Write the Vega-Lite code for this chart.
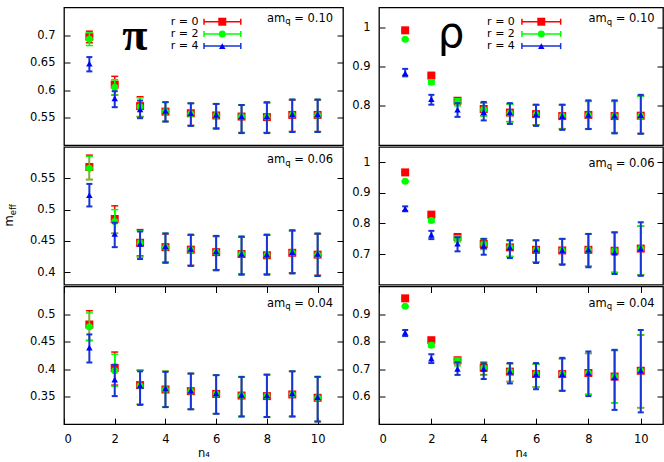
{
"$schema":"https://vega.github.io/schema/vega-lite/v6.json",
"padding":{"left":3,"top":6.5,"right":0,"bottom":0},
"config":{"font":"DejaVu Sans","view":{"stroke":"#000","strokeWidth":1.3},
"axis":{"grid":false,"domain":false,"tickColor":"#000","tickSize":-6,"tickWidth":1,"labelColor":"#000","labelFontSize":11.5,"labelFont":"DejaVu Sans","titleFont":"DejaVu Sans","titleFontSize":11.5,"titleFontWeight":"normal","titleColor":"#000","labelPadding":15},
"text":{"color":"#000"}},
"datasets":{
"notes":[{"p":"pi10","sym":"π","val":"= 0.10"},{"p":"rho10","sym":"ρ","val":"= 0.10"},{"p":"pi06","sym":"","val":"= 0.06"},{"p":"rho06","sym":"","val":"= 0.06"},{"p":"pi04","sym":"","val":"= 0.04"},{"p":"rho04","sym":"","val":"= 0.04"}],
"leg":[{"r":0,"label":"r = 0"},{"r":2,"label":"r = 2"},{"r":4,"label":"r = 4"}],
"d":[
{"p":"pi10","r":0,"n":1,"y":0.697,"lo":0.686,"hi":0.707},{"p":"pi10","r":0,"n":2,"y":0.610,"lo":0.591,"hi":0.625},{"p":"pi10","r":0,"n":3,"y":0.571,"lo":0.552,"hi":0.588},{"p":"pi10","r":0,"n":4,"y":0.561,"lo":0.543,"hi":0.578},{"p":"pi10","r":0,"n":5,"y":0.558,"lo":0.536,"hi":0.576},{"p":"pi10","r":0,"n":6,"y":0.554,"lo":0.531,"hi":0.575},{"p":"pi10","r":0,"n":7,"y":0.552,"lo":0.523,"hi":0.573},{"p":"pi10","r":0,"n":8,"y":0.551,"lo":0.523,"hi":0.577},{"p":"pi10","r":0,"n":9,"y":0.555,"lo":0.525,"hi":0.582},{"p":"pi10","r":0,"n":10,"y":0.555,"lo":0.525,"hi":0.582},
{"p":"pi10","r":2,"n":1,"y":0.693,"lo":0.681,"hi":0.704},{"p":"pi10","r":2,"n":2,"y":0.605,"lo":0.591,"hi":0.619},{"p":"pi10","r":2,"n":3,"y":0.570,"lo":0.551,"hi":0.586},{"p":"pi10","r":2,"n":4,"y":0.561,"lo":0.543,"hi":0.578},{"p":"pi10","r":2,"n":5,"y":0.557,"lo":0.535,"hi":0.576},{"p":"pi10","r":2,"n":6,"y":0.554,"lo":0.530,"hi":0.575},{"p":"pi10","r":2,"n":7,"y":0.552,"lo":0.522,"hi":0.573},{"p":"pi10","r":2,"n":8,"y":0.551,"lo":0.522,"hi":0.578},{"p":"pi10","r":2,"n":9,"y":0.555,"lo":0.524,"hi":0.583},{"p":"pi10","r":2,"n":10,"y":0.555,"lo":0.524,"hi":0.583},
{"p":"pi10","r":4,"n":1,"y":0.648,"lo":0.634,"hi":0.660},{"p":"pi10","r":4,"n":2,"y":0.585,"lo":0.569,"hi":0.598},{"p":"pi10","r":4,"n":3,"y":0.565,"lo":0.549,"hi":0.581},{"p":"pi10","r":4,"n":4,"y":0.562,"lo":0.543,"hi":0.578},{"p":"pi10","r":4,"n":5,"y":0.558,"lo":0.535,"hi":0.576},{"p":"pi10","r":4,"n":6,"y":0.555,"lo":0.530,"hi":0.575},{"p":"pi10","r":4,"n":7,"y":0.552,"lo":0.522,"hi":0.573},{"p":"pi10","r":4,"n":8,"y":0.552,"lo":0.522,"hi":0.578},{"p":"pi10","r":4,"n":9,"y":0.556,"lo":0.524,"hi":0.583},{"p":"pi10","r":4,"n":10,"y":0.556,"lo":0.524,"hi":0.583},
{"p":"rho10","r":0,"n":1,"y":0.992,"lo":0.990,"hi":0.994},{"p":"rho10","r":0,"n":2,"y":0.877,"lo":0.874,"hi":0.880},{"p":"rho10","r":0,"n":3,"y":0.813,"lo":0.805,"hi":0.820},{"p":"rho10","r":0,"n":4,"y":0.792,"lo":0.775,"hi":0.808},{"p":"rho10","r":0,"n":5,"y":0.783,"lo":0.760,"hi":0.805},{"p":"rho10","r":0,"n":6,"y":0.779,"lo":0.752,"hi":0.803},{"p":"rho10","r":0,"n":7,"y":0.774,"lo":0.742,"hi":0.803},{"p":"rho10","r":0,"n":8,"y":0.777,"lo":0.742,"hi":0.812},{"p":"rho10","r":0,"n":9,"y":0.774,"lo":0.732,"hi":0.812},{"p":"rho10","r":0,"n":10,"y":0.775,"lo":0.730,"hi":0.825},
{"p":"rho10","r":2,"n":1,"y":0.969,"lo":0.967,"hi":0.971},{"p":"rho10","r":2,"n":2,"y":0.860,"lo":0.855,"hi":0.865},{"p":"rho10","r":2,"n":3,"y":0.809,"lo":0.800,"hi":0.818},{"p":"rho10","r":2,"n":4,"y":0.791,"lo":0.774,"hi":0.807},{"p":"rho10","r":2,"n":5,"y":0.782,"lo":0.759,"hi":0.804},{"p":"rho10","r":2,"n":6,"y":0.778,"lo":0.751,"hi":0.802},{"p":"rho10","r":2,"n":7,"y":0.774,"lo":0.741,"hi":0.802},{"p":"rho10","r":2,"n":8,"y":0.776,"lo":0.741,"hi":0.811},{"p":"rho10","r":2,"n":9,"y":0.774,"lo":0.731,"hi":0.811},{"p":"rho10","r":2,"n":10,"y":0.775,"lo":0.729,"hi":0.824},
{"p":"rho10","r":4,"n":1,"y":0.883,"lo":0.875,"hi":0.894},{"p":"rho10","r":4,"n":2,"y":0.817,"lo":0.803,"hi":0.828},{"p":"rho10","r":4,"n":3,"y":0.790,"lo":0.772,"hi":0.807},{"p":"rho10","r":4,"n":4,"y":0.784,"lo":0.763,"hi":0.810},{"p":"rho10","r":4,"n":5,"y":0.783,"lo":0.754,"hi":0.807},{"p":"rho10","r":4,"n":6,"y":0.778,"lo":0.749,"hi":0.803},{"p":"rho10","r":4,"n":7,"y":0.774,"lo":0.739,"hi":0.803},{"p":"rho10","r":4,"n":8,"y":0.777,"lo":0.741,"hi":0.814},{"p":"rho10","r":4,"n":9,"y":0.775,"lo":0.730,"hi":0.814},{"p":"rho10","r":4,"n":10,"y":0.776,"lo":0.729,"hi":0.828},
{"p":"pi06","r":0,"n":1,"y":0.568,"lo":0.548,"hi":0.587},{"p":"pi06","r":0,"n":2,"y":0.485,"lo":0.462,"hi":0.506},{"p":"pi06","r":0,"n":3,"y":0.447,"lo":0.426,"hi":0.468},{"p":"pi06","r":0,"n":4,"y":0.440,"lo":0.416,"hi":0.461},{"p":"pi06","r":0,"n":5,"y":0.436,"lo":0.411,"hi":0.459},{"p":"pi06","r":0,"n":6,"y":0.432,"lo":0.404,"hi":0.457},{"p":"pi06","r":0,"n":7,"y":0.429,"lo":0.397,"hi":0.456},{"p":"pi06","r":0,"n":8,"y":0.427,"lo":0.397,"hi":0.459},{"p":"pi06","r":0,"n":9,"y":0.431,"lo":0.399,"hi":0.466},{"p":"pi06","r":0,"n":10,"y":0.428,"lo":0.395,"hi":0.461},
{"p":"pi06","r":2,"n":1,"y":0.566,"lo":0.548,"hi":0.585},{"p":"pi06","r":2,"n":2,"y":0.481,"lo":0.462,"hi":0.500},{"p":"pi06","r":2,"n":3,"y":0.447,"lo":0.424,"hi":0.466},{"p":"pi06","r":2,"n":4,"y":0.440,"lo":0.415,"hi":0.462},{"p":"pi06","r":2,"n":5,"y":0.436,"lo":0.410,"hi":0.460},{"p":"pi06","r":2,"n":6,"y":0.432,"lo":0.403,"hi":0.458},{"p":"pi06","r":2,"n":7,"y":0.429,"lo":0.396,"hi":0.457},{"p":"pi06","r":2,"n":8,"y":0.427,"lo":0.396,"hi":0.460},{"p":"pi06","r":2,"n":9,"y":0.431,"lo":0.398,"hi":0.467},{"p":"pi06","r":2,"n":10,"y":0.428,"lo":0.394,"hi":0.462},
{"p":"pi06","r":4,"n":1,"y":0.523,"lo":0.505,"hi":0.541},{"p":"pi06","r":4,"n":2,"y":0.461,"lo":0.440,"hi":0.479},{"p":"pi06","r":4,"n":3,"y":0.445,"lo":0.421,"hi":0.465},{"p":"pi06","r":4,"n":4,"y":0.441,"lo":0.415,"hi":0.462},{"p":"pi06","r":4,"n":5,"y":0.437,"lo":0.410,"hi":0.460},{"p":"pi06","r":4,"n":6,"y":0.433,"lo":0.403,"hi":0.458},{"p":"pi06","r":4,"n":7,"y":0.429,"lo":0.396,"hi":0.457},{"p":"pi06","r":4,"n":8,"y":0.428,"lo":0.396,"hi":0.460},{"p":"pi06","r":4,"n":9,"y":0.432,"lo":0.398,"hi":0.467},{"p":"pi06","r":4,"n":10,"y":0.429,"lo":0.394,"hi":0.462},
{"p":"rho06","r":0,"n":1,"y":0.967,"lo":0.965,"hi":0.969},{"p":"rho06","r":0,"n":2,"y":0.829,"lo":0.826,"hi":0.832},{"p":"rho06","r":0,"n":3,"y":0.756,"lo":0.748,"hi":0.764},{"p":"rho06","r":0,"n":4,"y":0.733,"lo":0.718,"hi":0.750},{"p":"rho06","r":0,"n":5,"y":0.722,"lo":0.692,"hi":0.745},{"p":"rho06","r":0,"n":6,"y":0.714,"lo":0.675,"hi":0.745},{"p":"rho06","r":0,"n":7,"y":0.712,"lo":0.667,"hi":0.750},{"p":"rho06","r":0,"n":8,"y":0.714,"lo":0.660,"hi":0.766},{"p":"rho06","r":0,"n":9,"y":0.711,"lo":0.640,"hi":0.771},{"p":"rho06","r":0,"n":10,"y":0.718,"lo":0.632,"hi":0.791},
{"p":"rho06","r":2,"n":1,"y":0.938,"lo":0.936,"hi":0.940},{"p":"rho06","r":2,"n":2,"y":0.810,"lo":0.805,"hi":0.815},{"p":"rho06","r":2,"n":3,"y":0.750,"lo":0.740,"hi":0.760},{"p":"rho06","r":2,"n":4,"y":0.733,"lo":0.715,"hi":0.750},{"p":"rho06","r":2,"n":5,"y":0.722,"lo":0.692,"hi":0.745},{"p":"rho06","r":2,"n":6,"y":0.714,"lo":0.675,"hi":0.745},{"p":"rho06","r":2,"n":7,"y":0.712,"lo":0.667,"hi":0.750},{"p":"rho06","r":2,"n":8,"y":0.714,"lo":0.660,"hi":0.766},{"p":"rho06","r":2,"n":9,"y":0.711,"lo":0.640,"hi":0.771},{"p":"rho06","r":2,"n":10,"y":0.718,"lo":0.632,"hi":0.791},
{"p":"rho06","r":4,"n":1,"y":0.848,"lo":0.840,"hi":0.856},{"p":"rho06","r":4,"n":2,"y":0.763,"lo":0.749,"hi":0.776},{"p":"rho06","r":4,"n":3,"y":0.734,"lo":0.709,"hi":0.755},{"p":"rho06","r":4,"n":4,"y":0.727,"lo":0.698,"hi":0.750},{"p":"rho06","r":4,"n":5,"y":0.722,"lo":0.687,"hi":0.745},{"p":"rho06","r":4,"n":6,"y":0.714,"lo":0.671,"hi":0.745},{"p":"rho06","r":4,"n":7,"y":0.712,"lo":0.665,"hi":0.750},{"p":"rho06","r":4,"n":8,"y":0.714,"lo":0.657,"hi":0.766},{"p":"rho06","r":4,"n":9,"y":0.705,"lo":0.635,"hi":0.771},{"p":"rho06","r":4,"n":10,"y":0.718,"lo":0.629,"hi":0.804},
{"p":"pi04","r":0,"n":1,"y":0.481,"lo":0.452,"hi":0.506},{"p":"pi04","r":0,"n":2,"y":0.402,"lo":0.371,"hi":0.431},{"p":"pi04","r":0,"n":3,"y":0.371,"lo":0.336,"hi":0.398},{"p":"pi04","r":0,"n":4,"y":0.363,"lo":0.331,"hi":0.396},{"p":"pi04","r":0,"n":5,"y":0.360,"lo":0.327,"hi":0.392},{"p":"pi04","r":0,"n":6,"y":0.355,"lo":0.319,"hi":0.389},{"p":"pi04","r":0,"n":7,"y":0.352,"lo":0.314,"hi":0.386},{"p":"pi04","r":0,"n":8,"y":0.351,"lo":0.313,"hi":0.390},{"p":"pi04","r":0,"n":9,"y":0.354,"lo":0.314,"hi":0.396},{"p":"pi04","r":0,"n":10,"y":0.348,"lo":0.305,"hi":0.386},
{"p":"pi04","r":2,"n":1,"y":0.477,"lo":0.452,"hi":0.502},{"p":"pi04","r":2,"n":2,"y":0.397,"lo":0.369,"hi":0.427},{"p":"pi04","r":2,"n":3,"y":0.370,"lo":0.336,"hi":0.398},{"p":"pi04","r":2,"n":4,"y":0.363,"lo":0.331,"hi":0.396},{"p":"pi04","r":2,"n":5,"y":0.360,"lo":0.327,"hi":0.392},{"p":"pi04","r":2,"n":6,"y":0.355,"lo":0.319,"hi":0.389},{"p":"pi04","r":2,"n":7,"y":0.352,"lo":0.314,"hi":0.386},{"p":"pi04","r":2,"n":8,"y":0.351,"lo":0.313,"hi":0.390},{"p":"pi04","r":2,"n":9,"y":0.354,"lo":0.314,"hi":0.396},{"p":"pi04","r":2,"n":10,"y":0.348,"lo":0.305,"hi":0.386},
{"p":"pi04","r":4,"n":1,"y":0.439,"lo":0.412,"hi":0.463},{"p":"pi04","r":4,"n":2,"y":0.381,"lo":0.351,"hi":0.408},{"p":"pi04","r":4,"n":3,"y":0.370,"lo":0.335,"hi":0.396},{"p":"pi04","r":4,"n":4,"y":0.365,"lo":0.331,"hi":0.395},{"p":"pi04","r":4,"n":5,"y":0.361,"lo":0.327,"hi":0.392},{"p":"pi04","r":4,"n":6,"y":0.356,"lo":0.319,"hi":0.389},{"p":"pi04","r":4,"n":7,"y":0.353,"lo":0.314,"hi":0.386},{"p":"pi04","r":4,"n":8,"y":0.352,"lo":0.313,"hi":0.390},{"p":"pi04","r":4,"n":9,"y":0.356,"lo":0.314,"hi":0.396},{"p":"pi04","r":4,"n":10,"y":0.349,"lo":0.305,"hi":0.386},
{"p":"rho04","r":0,"n":1,"y":0.957,"lo":0.955,"hi":0.959},{"p":"rho04","r":0,"n":2,"y":0.805,"lo":0.800,"hi":0.810},{"p":"rho04","r":0,"n":3,"y":0.732,"lo":0.720,"hi":0.742},{"p":"rho04","r":0,"n":4,"y":0.705,"lo":0.680,"hi":0.725},{"p":"rho04","r":0,"n":5,"y":0.691,"lo":0.655,"hi":0.720},{"p":"rho04","r":0,"n":6,"y":0.682,"lo":0.635,"hi":0.718},{"p":"rho04","r":0,"n":7,"y":0.682,"lo":0.622,"hi":0.738},{"p":"rho04","r":0,"n":8,"y":0.686,"lo":0.608,"hi":0.757},{"p":"rho04","r":0,"n":9,"y":0.673,"lo":0.578,"hi":0.768},{"p":"rho04","r":0,"n":10,"y":0.694,"lo":0.560,"hi":0.824},
{"p":"rho04","r":2,"n":1,"y":0.928,"lo":0.926,"hi":0.930},{"p":"rho04","r":2,"n":2,"y":0.787,"lo":0.780,"hi":0.794},{"p":"rho04","r":2,"n":3,"y":0.729,"lo":0.712,"hi":0.740},{"p":"rho04","r":2,"n":4,"y":0.705,"lo":0.678,"hi":0.722},{"p":"rho04","r":2,"n":5,"y":0.691,"lo":0.655,"hi":0.720},{"p":"rho04","r":2,"n":6,"y":0.682,"lo":0.635,"hi":0.718},{"p":"rho04","r":2,"n":7,"y":0.682,"lo":0.622,"hi":0.738},{"p":"rho04","r":2,"n":8,"y":0.686,"lo":0.608,"hi":0.757},{"p":"rho04","r":2,"n":9,"y":0.673,"lo":0.578,"hi":0.768},{"p":"rho04","r":2,"n":10,"y":0.694,"lo":0.560,"hi":0.824},
{"p":"rho04","r":4,"n":1,"y":0.832,"lo":0.820,"hi":0.842},{"p":"rho04","r":4,"n":2,"y":0.738,"lo":0.722,"hi":0.754},{"p":"rho04","r":4,"n":3,"y":0.701,"lo":0.679,"hi":0.725},{"p":"rho04","r":4,"n":4,"y":0.701,"lo":0.664,"hi":0.721},{"p":"rho04","r":4,"n":5,"y":0.691,"lo":0.648,"hi":0.722},{"p":"rho04","r":4,"n":6,"y":0.682,"lo":0.627,"hi":0.722},{"p":"rho04","r":4,"n":7,"y":0.682,"lo":0.621,"hi":0.741},{"p":"rho04","r":4,"n":8,"y":0.686,"lo":0.602,"hi":0.764},{"p":"rho04","r":4,"n":9,"y":0.670,"lo":0.552,"hi":0.770},{"p":"rho04","r":4,"n":10,"y":0.694,"lo":0.543,"hi":0.842}
]},
"columns":2,
"spacing":{"row":1.5,"column":36},
"bounds":"flush",
"resolve":{"scale":{"x":"independent","y":"independent"}},
"concat":[
{"width":279,"height":137.7,
 "layer":[
  {"layer":[
    {"data":{"name":"d"},"transform":[{"filter":"datum.p=='pi10' && datum.r==0"}],"mark":{"type":"errorbar","color":"#ff0000","thickness":1.5,"size":7,"opacity":1,"ticks":{"opacity":1}},
     "encoding":{"x":{"field":"n","type":"quantitative","scale":{"domain":[0,11],"nice":false,"zero":false},"axis":null},"y":{"field":"lo","type":"quantitative","scale":{"domain":[0.5,0.75],"nice":false,"zero":false},"axis":{"values":[0.55,0.6,0.65,0.7],"format":"~g","title":null}},"y2":{"field":"hi"}}},
    {"data":{"name":"d"},"transform":[{"filter":"datum.p=='pi10' && datum.r==0"}],"mark":{"type":"point","shape":"square","filled":true,"size":64,"color":"#ff0000","opacity":1},
     "encoding":{"x":{"field":"n","type":"quantitative","axis":null},"y":{"field":"y","type":"quantitative","axis":null}}},
    {"data":{"name":"d"},"transform":[{"filter":"datum.p=='pi10' && datum.r==2"}],"mark":{"type":"errorbar","color":"#00ff00","thickness":1.5,"size":7,"opacity":1,"ticks":{"opacity":1}},
     "encoding":{"x":{"field":"n","type":"quantitative","axis":null},"y":{"field":"lo","type":"quantitative","axis":null},"y2":{"field":"hi"}}},
    {"data":{"name":"d"},"transform":[{"filter":"datum.p=='pi10' && datum.r==2"}],"mark":{"type":"point","shape":"circle","filled":true,"size":49,"color":"#00ff00","opacity":1},
     "encoding":{"x":{"field":"n","type":"quantitative","axis":null},"y":{"field":"y","type":"quantitative","axis":null}}},
    {"data":{"name":"d"},"transform":[{"filter":"datum.p=='pi10' && datum.r==4"}],"mark":{"type":"errorbar","color":"#1535d5","thickness":2,"size":6,"opacity":1,"ticks":{"opacity":1}},
     "encoding":{"x":{"field":"n","type":"quantitative","axis":null},"y":{"field":"lo","type":"quantitative","axis":null},"y2":{"field":"hi"}}},
    {"data":{"name":"d"},"transform":[{"filter":"datum.p=='pi10' && datum.r==4"}],"mark":{"type":"point","shape":"triangle-up","filled":true,"size":42,"color":"#0000ff","opacity":1},
     "encoding":{"x":{"field":"n","type":"quantitative","axis":null},"y":{"field":"y","type":"quantitative","axis":{"orient":"right","values":[0.55,0.6,0.65,0.7],"labels":false,"title":null}}}},
    {"data":{"name":"notes"},"transform":[{"filter":"datum.p=='pi10'"}],"mark":{"type":"text","font":"Liberation Serif","fontWeight":"bold","fontSize":46,"align":"center","baseline":"alphabetic"},
     "encoding":{"x":{"datum":2.79,"axis":null},"y":{"datum":0.672,"axis":null},"text":{"field":"sym"}}},
    {"data":{"name":"notes"},"transform":[{"filter":"datum.p=='pi10'"}],"mark":{"type":"text","text":"am","fontSize":11.5,"align":"left","baseline":"alphabetic"},
     "encoding":{"x":{"datum":8.0,"axis":null},"y":{"datum":0.724,"axis":null}}},
    {"data":{"name":"notes"},"transform":[{"filter":"datum.p=='pi10'"}],"mark":{"type":"text","text":"q","fontSize":8.5,"dx":18.25,"dy":2.5,"align":"left","baseline":"alphabetic"},
     "encoding":{"x":{"datum":8.0,"axis":null},"y":{"datum":0.724,"axis":null}}},
    {"data":{"name":"notes"},"transform":[{"filter":"datum.p=='pi10'"}],"mark":{"type":"text","fontSize":11.5,"dx":27.3,"align":"left","baseline":"alphabetic"},
     "encoding":{"x":{"datum":8.0,"axis":null},"y":{"datum":0.724,"axis":null},"text":{"field":"val"}}}
   ],
   "resolve":{"axis":{"x":"independent","y":"independent"}}},
  {"data":{"name":"leg"},
   "layer":[
    {"mark":{"type":"rule","strokeWidth":1.5},"encoding":{"x":{"datum":5.52,"axis":null},"x2":{"datum":6.97},"y":{"field":"r","type":"quantitative","scale":{"domain":[-2.33,20.24],"reverse":true,"nice":false,"zero":false},"axis":null},"color":{"field":"r","type":"nominal","scale":{"domain":[0,2,4],"range":["#ff0000","#00ff00","#1535d5"]},"legend":null}}},
    {"mark":{"type":"tick","orient":"vertical","size":6,"thickness":1.5,"opacity":1},"encoding":{"x":{"datum":5.52,"axis":null},"y":{"field":"r","type":"quantitative","axis":null},"color":{"field":"r","type":"nominal","legend":null}}},
    {"mark":{"type":"tick","orient":"vertical","size":6,"thickness":1.5,"opacity":1},"encoding":{"x":{"datum":6.97,"axis":null},"y":{"field":"r","type":"quantitative","axis":null},"color":{"field":"r","type":"nominal","legend":null}}},
    {"transform":[{"filter":"datum.r==0"}],"mark":{"type":"point","shape":"square","filled":true,"size":64,"color":"#ff0000","opacity":1},"encoding":{"x":{"datum":6.24,"axis":null},"y":{"field":"r","type":"quantitative","axis":null}}},
    {"transform":[{"filter":"datum.r==2"}],"mark":{"type":"point","shape":"circle","filled":true,"size":49,"color":"#00ff00","opacity":1},"encoding":{"x":{"datum":6.24,"axis":null},"y":{"field":"r","type":"quantitative","axis":null}}},
    {"transform":[{"filter":"datum.r==4"}],"mark":{"type":"point","shape":"triangle-up","filled":true,"size":42,"color":"#0000ff","opacity":1},"encoding":{"x":{"datum":6.24,"axis":null},"y":{"field":"r","type":"quantitative","axis":null}}},
    {"mark":{"type":"text","fontSize":11,"align":"right","baseline":"middle"},"encoding":{"x":{"datum":5.30,"axis":null},"y":{"field":"r","type":"quantitative","axis":null},"text":{"field":"label"}}}
   ]}
 ],
 "resolve":{"scale":{"y":"independent"},"axis":{"x":"independent","y":"independent"}}},

{"width":284,"height":137.7,
 "layer":[
  {"layer":[
    {"data":{"name":"d"},"transform":[{"filter":"datum.p=='rho10' && datum.r==0"}],"mark":{"type":"errorbar","color":"#ff0000","thickness":1.5,"size":7,"opacity":1,"ticks":{"opacity":1}},
     "encoding":{"x":{"field":"n","type":"quantitative","scale":{"domain":[0,10.85],"nice":false,"zero":false},"axis":null},"y":{"field":"lo","type":"quantitative","scale":{"domain":[0.7,1.05],"nice":false,"zero":false},"axis":{"values":[0.8,0.9,1],"format":"~g","title":null}},"y2":{"field":"hi"}}},
    {"data":{"name":"d"},"transform":[{"filter":"datum.p=='rho10' && datum.r==0"}],"mark":{"type":"point","shape":"square","filled":true,"size":64,"color":"#ff0000","opacity":1},
     "encoding":{"x":{"field":"n","type":"quantitative","axis":null},"y":{"field":"y","type":"quantitative","axis":null}}},
    {"data":{"name":"d"},"transform":[{"filter":"datum.p=='rho10' && datum.r==2"}],"mark":{"type":"errorbar","color":"#00ff00","thickness":1.5,"size":7,"opacity":1,"ticks":{"opacity":1}},
     "encoding":{"x":{"field":"n","type":"quantitative","axis":null},"y":{"field":"lo","type":"quantitative","axis":null},"y2":{"field":"hi"}}},
    {"data":{"name":"d"},"transform":[{"filter":"datum.p=='rho10' && datum.r==2"}],"mark":{"type":"point","shape":"circle","filled":true,"size":49,"color":"#00ff00","opacity":1},
     "encoding":{"x":{"field":"n","type":"quantitative","axis":null},"y":{"field":"y","type":"quantitative","axis":null}}},
    {"data":{"name":"d"},"transform":[{"filter":"datum.p=='rho10' && datum.r==4"}],"mark":{"type":"errorbar","color":"#1535d5","thickness":2,"size":6,"opacity":1,"ticks":{"opacity":1}},
     "encoding":{"x":{"field":"n","type":"quantitative","axis":null},"y":{"field":"lo","type":"quantitative","axis":null},"y2":{"field":"hi"}}},
    {"data":{"name":"d"},"transform":[{"filter":"datum.p=='rho10' && datum.r==4"}],"mark":{"type":"point","shape":"triangle-up","filled":true,"size":42,"color":"#0000ff","opacity":1},
     "encoding":{"x":{"field":"n","type":"quantitative","axis":null},"y":{"field":"y","type":"quantitative","axis":{"orient":"right","values":[0.8,0.9,1],"labels":false,"title":null}}}},
    {"data":{"name":"notes"},"transform":[{"filter":"datum.p=='rho10'"}],"mark":{"type":"text","font":"DejaVu Sans","fontSize":42,"align":"center","baseline":"alphabetic"},
     "encoding":{"x":{"datum":2.75,"axis":null},"y":{"datum":0.950,"axis":null},"text":{"field":"sym"}}},
    {"data":{"name":"notes"},"transform":[{"filter":"datum.p=='rho10'"}],"mark":{"type":"text","text":"am","fontSize":11.5,"align":"left","baseline":"alphabetic"},
     "encoding":{"x":{"datum":8.0,"axis":null},"y":{"datum":1.013,"axis":null}}},
    {"data":{"name":"notes"},"transform":[{"filter":"datum.p=='rho10'"}],"mark":{"type":"text","text":"q","fontSize":8.5,"dx":18.25,"dy":2.5,"align":"left","baseline":"alphabetic"},
     "encoding":{"x":{"datum":8.0,"axis":null},"y":{"datum":1.013,"axis":null}}},
    {"data":{"name":"notes"},"transform":[{"filter":"datum.p=='rho10'"}],"mark":{"type":"text","fontSize":11.5,"dx":27.3,"align":"left","baseline":"alphabetic"},
     "encoding":{"x":{"datum":8.0,"axis":null},"y":{"datum":1.013,"axis":null},"text":{"field":"val"}}}
   ],
   "resolve":{"axis":{"x":"independent","y":"independent"}}},
  {"data":{"name":"leg"},
   "layer":[
    {"mark":{"type":"rule","strokeWidth":1.5},"encoding":{"x":{"datum":5.46,"axis":null},"x2":{"datum":6.94},"y":{"field":"r","type":"quantitative","scale":{"domain":[-2.33,20.24],"reverse":true,"nice":false,"zero":false},"axis":null},"color":{"field":"r","type":"nominal","legend":null}}},
    {"mark":{"type":"tick","orient":"vertical","size":6,"thickness":1.5,"opacity":1},"encoding":{"x":{"datum":5.46,"axis":null},"y":{"field":"r","type":"quantitative","axis":null},"color":{"field":"r","type":"nominal","legend":null}}},
    {"mark":{"type":"tick","orient":"vertical","size":6,"thickness":1.5,"opacity":1},"encoding":{"x":{"datum":6.94,"axis":null},"y":{"field":"r","type":"quantitative","axis":null},"color":{"field":"r","type":"nominal","legend":null}}},
    {"transform":[{"filter":"datum.r==0"}],"mark":{"type":"point","shape":"square","filled":true,"size":64,"color":"#ff0000","opacity":1},"encoding":{"x":{"datum":6.2,"axis":null},"y":{"field":"r","type":"quantitative","axis":null}}},
    {"transform":[{"filter":"datum.r==2"}],"mark":{"type":"point","shape":"circle","filled":true,"size":49,"color":"#00ff00","opacity":1},"encoding":{"x":{"datum":6.2,"axis":null},"y":{"field":"r","type":"quantitative","axis":null}}},
    {"transform":[{"filter":"datum.r==4"}],"mark":{"type":"point","shape":"triangle-up","filled":true,"size":42,"color":"#0000ff","opacity":1},"encoding":{"x":{"datum":6.2,"axis":null},"y":{"field":"r","type":"quantitative","axis":null}}},
    {"mark":{"type":"text","fontSize":11,"align":"right","baseline":"middle"},"encoding":{"x":{"datum":5.19,"axis":null},"y":{"field":"r","type":"quantitative","axis":null},"text":{"field":"label"}}}
   ]}
 ],
 "resolve":{"scale":{"y":"independent"},"axis":{"x":"independent","y":"independent"}}},

{"width":279,"height":137.7,
 "layer":[
    {"data":{"name":"d"},"transform":[{"filter":"datum.p=='pi06' && datum.r==0"}],"mark":{"type":"errorbar","color":"#ff0000","thickness":1.5,"size":7,"opacity":1,"ticks":{"opacity":1}},
     "encoding":{"x":{"field":"n","type":"quantitative","scale":{"domain":[0,11],"nice":false,"zero":false},"axis":null},"y":{"field":"lo","type":"quantitative","scale":{"domain":[0.38,0.6],"nice":false,"zero":false},"axis":{"values":[0.4,0.45,0.5,0.55],"format":"~g","title":null}},"y2":{"field":"hi"}}},
    {"data":{"name":"d"},"transform":[{"filter":"datum.p=='pi06' && datum.r==0"}],"mark":{"type":"point","shape":"square","filled":true,"size":64,"color":"#ff0000","opacity":1},
     "encoding":{"x":{"field":"n","type":"quantitative","axis":null},"y":{"field":"y","type":"quantitative","axis":null}}},
    {"data":{"name":"d"},"transform":[{"filter":"datum.p=='pi06' && datum.r==2"}],"mark":{"type":"errorbar","color":"#00ff00","thickness":1.5,"size":7,"opacity":1,"ticks":{"opacity":1}},
     "encoding":{"x":{"field":"n","type":"quantitative","axis":null},"y":{"field":"lo","type":"quantitative","axis":null},"y2":{"field":"hi"}}},
    {"data":{"name":"d"},"transform":[{"filter":"datum.p=='pi06' && datum.r==2"}],"mark":{"type":"point","shape":"circle","filled":true,"size":49,"color":"#00ff00","opacity":1},
     "encoding":{"x":{"field":"n","type":"quantitative","axis":null},"y":{"field":"y","type":"quantitative","axis":null}}},
    {"data":{"name":"d"},"transform":[{"filter":"datum.p=='pi06' && datum.r==4"}],"mark":{"type":"errorbar","color":"#1535d5","thickness":2,"size":6,"opacity":1,"ticks":{"opacity":1}},
     "encoding":{"x":{"field":"n","type":"quantitative","axis":null},"y":{"field":"lo","type":"quantitative","axis":null},"y2":{"field":"hi"}}},
    {"data":{"name":"d"},"transform":[{"filter":"datum.p=='pi06' && datum.r==4"}],"mark":{"type":"point","shape":"triangle-up","filled":true,"size":42,"color":"#0000ff","opacity":1},
     "encoding":{"x":{"field":"n","type":"quantitative","axis":null},"y":{"field":"y","type":"quantitative","axis":{"orient":"right","values":[0.4,0.45,0.5,0.55],"labels":false,"title":null}}}},
    {"data":{"name":"notes"},"transform":[{"filter":"datum.p=='pi06'"}],"mark":{"type":"text","text":"am","fontSize":11.5,"align":"left","baseline":"alphabetic"},
     "encoding":{"x":{"datum":8.0,"axis":null},"y":{"datum":0.574,"axis":null}}},
    {"data":{"name":"notes"},"transform":[{"filter":"datum.p=='pi06'"}],"mark":{"type":"text","text":"q","fontSize":8.5,"dx":18.25,"dy":2.5,"align":"left","baseline":"alphabetic"},
     "encoding":{"x":{"datum":8.0,"axis":null},"y":{"datum":0.574,"axis":null}}},
    {"data":{"name":"notes"},"transform":[{"filter":"datum.p=='pi06'"}],"mark":{"type":"text","fontSize":11.5,"dx":27.3,"align":"left","baseline":"alphabetic"},
     "encoding":{"x":{"datum":8.0,"axis":null},"y":{"datum":0.574,"axis":null},"text":{"field":"val"}}},
    {"data":{"name":"notes"},"transform":[{"filter":"datum.p=='pi06'"}],"mark":{"type":"text","text":"m","angle":270,"fontSize":11.5,"align":"left","baseline":"alphabetic"},
     "encoding":{"x":{"datum":-2.01,"axis":null},"y":{"datum":0.473,"axis":null}}},
    {"data":{"name":"notes"},"transform":[{"filter":"datum.p=='pi06'"}],"mark":{"type":"text","text":"eff","angle":270,"fontSize":8.5,"dx":11.2,"dy":2.5,"align":"left","baseline":"alphabetic"},
     "encoding":{"x":{"datum":-2.01,"axis":null},"y":{"datum":0.473,"axis":null}}}
 ],
 "resolve":{"axis":{"x":"independent","y":"independent"}}},

{"width":284,"height":137.7,
 "layer":[
    {"data":{"name":"d"},"transform":[{"filter":"datum.p=='rho06' && datum.r==0"}],"mark":{"type":"errorbar","color":"#ff0000","thickness":1.5,"size":7,"opacity":1,"ticks":{"opacity":1}},
     "encoding":{"x":{"field":"n","type":"quantitative","scale":{"domain":[0,10.85],"nice":false,"zero":false},"axis":null},"y":{"field":"lo","type":"quantitative","scale":{"domain":[0.6,1.05],"nice":false,"zero":false},"axis":{"values":[0.7,0.8,0.9,1],"format":"~g","title":null}},"y2":{"field":"hi"}}},
    {"data":{"name":"d"},"transform":[{"filter":"datum.p=='rho06' && datum.r==0"}],"mark":{"type":"point","shape":"square","filled":true,"size":64,"color":"#ff0000","opacity":1},
     "encoding":{"x":{"field":"n","type":"quantitative","axis":null},"y":{"field":"y","type":"quantitative","axis":null}}},
    {"data":{"name":"d"},"transform":[{"filter":"datum.p=='rho06' && datum.r==2"}],"mark":{"type":"errorbar","color":"#00ff00","thickness":1.5,"size":7,"opacity":1,"ticks":{"opacity":1}},
     "encoding":{"x":{"field":"n","type":"quantitative","axis":null},"y":{"field":"lo","type":"quantitative","axis":null},"y2":{"field":"hi"}}},
    {"data":{"name":"d"},"transform":[{"filter":"datum.p=='rho06' && datum.r==2"}],"mark":{"type":"point","shape":"circle","filled":true,"size":49,"color":"#00ff00","opacity":1},
     "encoding":{"x":{"field":"n","type":"quantitative","axis":null},"y":{"field":"y","type":"quantitative","axis":null}}},
    {"data":{"name":"d"},"transform":[{"filter":"datum.p=='rho06' && datum.r==4"}],"mark":{"type":"errorbar","color":"#1535d5","thickness":2,"size":6,"opacity":1,"ticks":{"opacity":1}},
     "encoding":{"x":{"field":"n","type":"quantitative","axis":null},"y":{"field":"lo","type":"quantitative","axis":null},"y2":{"field":"hi"}}},
    {"data":{"name":"d"},"transform":[{"filter":"datum.p=='rho06' && datum.r==4"}],"mark":{"type":"point","shape":"triangle-up","filled":true,"size":42,"color":"#0000ff","opacity":1},
     "encoding":{"x":{"field":"n","type":"quantitative","axis":null},"y":{"field":"y","type":"quantitative","axis":{"orient":"right","values":[0.7,0.8,0.9,1],"labels":false,"title":null}}}},
    {"data":{"name":"notes"},"transform":[{"filter":"datum.p=='rho06'"}],"mark":{"type":"text","text":"am","fontSize":11.5,"align":"left","baseline":"alphabetic"},
     "encoding":{"x":{"datum":8.0,"axis":null},"y":{"datum":0.986,"axis":null}}},
    {"data":{"name":"notes"},"transform":[{"filter":"datum.p=='rho06'"}],"mark":{"type":"text","text":"q","fontSize":8.5,"dx":18.25,"dy":2.5,"align":"left","baseline":"alphabetic"},
     "encoding":{"x":{"datum":8.0,"axis":null},"y":{"datum":0.986,"axis":null}}},
    {"data":{"name":"notes"},"transform":[{"filter":"datum.p=='rho06'"}],"mark":{"type":"text","fontSize":11.5,"dx":27.3,"align":"left","baseline":"alphabetic"},
     "encoding":{"x":{"datum":8.0,"axis":null},"y":{"datum":0.986,"axis":null},"text":{"field":"val"}}}
 ],
 "resolve":{"axis":{"x":"independent","y":"independent"}}},

{"width":279,"height":137.7,
 "layer":[
    {"data":{"name":"d"},"transform":[{"filter":"datum.p=='pi04' && datum.r==0"}],"mark":{"type":"errorbar","color":"#ff0000","thickness":1.5,"size":7,"opacity":1,"ticks":{"opacity":1}},
     "encoding":{"x":{"field":"n","type":"quantitative","scale":{"domain":[0,11],"nice":false,"zero":false},"axis":{"values":[0,2,4,6,8,10],"title":"n₄","titlePadding":3}},"y":{"field":"lo","type":"quantitative","scale":{"domain":[0.3,0.55],"nice":false,"zero":false},"axis":{"values":[0.35,0.4,0.45,0.5],"format":"~g","title":null}},"y2":{"field":"hi"}}},
    {"data":{"name":"d"},"transform":[{"filter":"datum.p=='pi04' && datum.r==0"}],"mark":{"type":"point","shape":"square","filled":true,"size":64,"color":"#ff0000","opacity":1},
     "encoding":{"x":{"field":"n","type":"quantitative","axis":null},"y":{"field":"y","type":"quantitative","axis":null}}},
    {"data":{"name":"d"},"transform":[{"filter":"datum.p=='pi04' && datum.r==2"}],"mark":{"type":"errorbar","color":"#00ff00","thickness":1.5,"size":7,"opacity":1,"ticks":{"opacity":1}},
     "encoding":{"x":{"field":"n","type":"quantitative","axis":null},"y":{"field":"lo","type":"quantitative","axis":null},"y2":{"field":"hi"}}},
    {"data":{"name":"d"},"transform":[{"filter":"datum.p=='pi04' && datum.r==2"}],"mark":{"type":"point","shape":"circle","filled":true,"size":49,"color":"#00ff00","opacity":1},
     "encoding":{"x":{"field":"n","type":"quantitative","axis":null},"y":{"field":"y","type":"quantitative","axis":null}}},
    {"data":{"name":"d"},"transform":[{"filter":"datum.p=='pi04' && datum.r==4"}],"mark":{"type":"errorbar","color":"#1535d5","thickness":2,"size":6,"opacity":1,"ticks":{"opacity":1}},
     "encoding":{"x":{"field":"n","type":"quantitative","axis":null},"y":{"field":"lo","type":"quantitative","axis":null},"y2":{"field":"hi"}}},
    {"data":{"name":"d"},"transform":[{"filter":"datum.p=='pi04' && datum.r==4"}],"mark":{"type":"point","shape":"triangle-up","filled":true,"size":42,"color":"#0000ff","opacity":1},
     "encoding":{"x":{"field":"n","type":"quantitative","axis":{"orient":"top","values":[0,2,4,6,8,10],"labels":false,"title":null}},"y":{"field":"y","type":"quantitative","axis":{"orient":"right","values":[0.35,0.4,0.45,0.5],"labels":false,"title":null}}}},
    {"data":{"name":"notes"},"transform":[{"filter":"datum.p=='pi04'"}],"mark":{"type":"text","text":"am","fontSize":11.5,"align":"left","baseline":"alphabetic"},
     "encoding":{"x":{"datum":8.0,"axis":null},"y":{"datum":0.513,"axis":null}}},
    {"data":{"name":"notes"},"transform":[{"filter":"datum.p=='pi04'"}],"mark":{"type":"text","text":"q","fontSize":8.5,"dx":18.25,"dy":2.5,"align":"left","baseline":"alphabetic"},
     "encoding":{"x":{"datum":8.0,"axis":null},"y":{"datum":0.513,"axis":null}}},
    {"data":{"name":"notes"},"transform":[{"filter":"datum.p=='pi04'"}],"mark":{"type":"text","fontSize":11.5,"dx":27.3,"align":"left","baseline":"alphabetic"},
     "encoding":{"x":{"datum":8.0,"axis":null},"y":{"datum":0.513,"axis":null},"text":{"field":"val"}}}
 ],
 "resolve":{"axis":{"x":"independent","y":"independent"}}},

{"width":284,"height":137.7,
 "layer":[
    {"data":{"name":"d"},"transform":[{"filter":"datum.p=='rho04' && datum.r==0"}],"mark":{"type":"errorbar","color":"#ff0000","thickness":1.5,"size":7,"opacity":1,"ticks":{"opacity":1}},
     "encoding":{"x":{"field":"n","type":"quantitative","scale":{"domain":[0,10.85],"nice":false,"zero":false},"axis":{"values":[0,2,4,6,8,10],"title":"n₄","titlePadding":3}},"y":{"field":"lo","type":"quantitative","scale":{"domain":[0.5,1.0],"nice":false,"zero":false},"axis":{"values":[0.6,0.7,0.8,0.9],"format":"~g","title":null}},"y2":{"field":"hi"}}},
    {"data":{"name":"d"},"transform":[{"filter":"datum.p=='rho04' && datum.r==0"}],"mark":{"type":"point","shape":"square","filled":true,"size":64,"color":"#ff0000","opacity":1},
     "encoding":{"x":{"field":"n","type":"quantitative","axis":null},"y":{"field":"y","type":"quantitative","axis":null}}},
    {"data":{"name":"d"},"transform":[{"filter":"datum.p=='rho04' && datum.r==2"}],"mark":{"type":"errorbar","color":"#00ff00","thickness":1.5,"size":7,"opacity":1,"ticks":{"opacity":1}},
     "encoding":{"x":{"field":"n","type":"quantitative","axis":null},"y":{"field":"lo","type":"quantitative","axis":null},"y2":{"field":"hi"}}},
    {"data":{"name":"d"},"transform":[{"filter":"datum.p=='rho04' && datum.r==2"}],"mark":{"type":"point","shape":"circle","filled":true,"size":49,"color":"#00ff00","opacity":1},
     "encoding":{"x":{"field":"n","type":"quantitative","axis":null},"y":{"field":"y","type":"quantitative","axis":null}}},
    {"data":{"name":"d"},"transform":[{"filter":"datum.p=='rho04' && datum.r==4"}],"mark":{"type":"errorbar","color":"#1535d5","thickness":2,"size":6,"opacity":1,"ticks":{"opacity":1}},
     "encoding":{"x":{"field":"n","type":"quantitative","axis":null},"y":{"field":"lo","type":"quantitative","axis":null},"y2":{"field":"hi"}}},
    {"data":{"name":"d"},"transform":[{"filter":"datum.p=='rho04' && datum.r==4"}],"mark":{"type":"point","shape":"triangle-up","filled":true,"size":42,"color":"#0000ff","opacity":1},
     "encoding":{"x":{"field":"n","type":"quantitative","axis":{"orient":"top","values":[0,2,4,6,8,10],"labels":false,"title":null}},"y":{"field":"y","type":"quantitative","axis":{"orient":"right","values":[0.6,0.7,0.8,0.9],"labels":false,"title":null}}}},
    {"data":{"name":"notes"},"transform":[{"filter":"datum.p=='rho04'"}],"mark":{"type":"text","text":"am","fontSize":11.5,"align":"left","baseline":"alphabetic"},
     "encoding":{"x":{"datum":8.0,"axis":null},"y":{"datum":0.926,"axis":null}}},
    {"data":{"name":"notes"},"transform":[{"filter":"datum.p=='rho04'"}],"mark":{"type":"text","text":"q","fontSize":8.5,"dx":18.25,"dy":2.5,"align":"left","baseline":"alphabetic"},
     "encoding":{"x":{"datum":8.0,"axis":null},"y":{"datum":0.926,"axis":null}}},
    {"data":{"name":"notes"},"transform":[{"filter":"datum.p=='rho04'"}],"mark":{"type":"text","fontSize":11.5,"dx":27.3,"align":"left","baseline":"alphabetic"},
     "encoding":{"x":{"datum":8.0,"axis":null},"y":{"datum":0.926,"axis":null},"text":{"field":"val"}}}
 ],
 "resolve":{"axis":{"x":"independent","y":"independent"}}}
]
}
